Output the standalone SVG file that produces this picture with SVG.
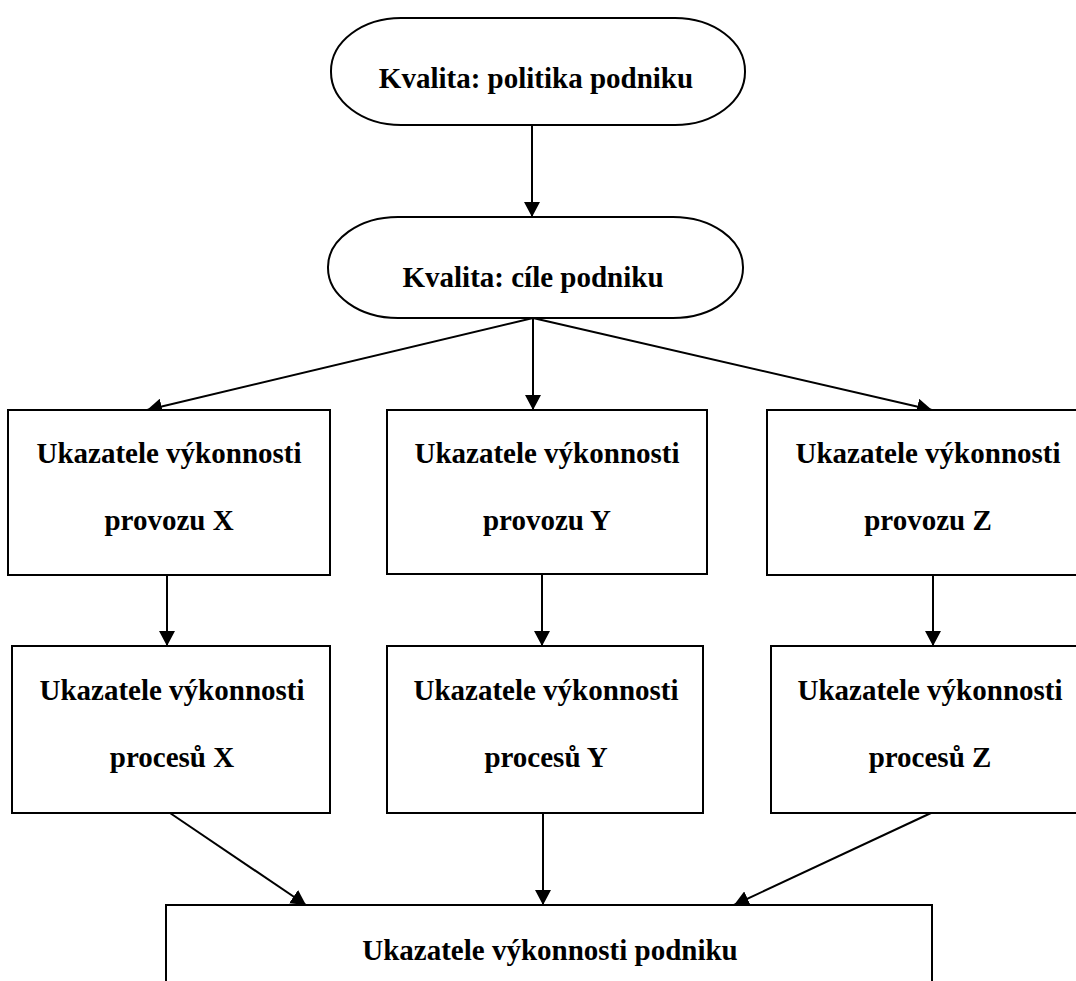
<svg xmlns="http://www.w3.org/2000/svg" width="1076" height="981" viewBox="0 0 1076 981">
<defs>
<marker id="arr" markerUnits="userSpaceOnUse" markerWidth="16" markerHeight="16" refX="15" refY="8" orient="auto">
<path d="M0,0 L15,8 L0,16 Z" fill="#000"/>
</marker>
<style>
.n{fill:#fff;stroke:#000;stroke-width:2}
.t{font-family:"Liberation Serif","Times New Roman",serif;font-weight:bold;font-size:29px;fill:#000;text-anchor:middle}
.c{stroke:#000;stroke-width:2;fill:none;marker-end:url(#arr)}
</style>
</defs>
<rect width="1076" height="981" fill="#fff"/>
<g id="connectors">
<line class="c" x1="532" y1="125" x2="532" y2="217"/>
<line class="c" x1="533" y1="318" x2="147" y2="410"/>
<line class="c" x1="533" y1="318" x2="533" y2="410"/>
<line class="c" x1="533" y1="318" x2="932" y2="410"/>
<line class="c" x1="167" y1="575" x2="167" y2="646"/>
<line class="c" x1="542" y1="574" x2="542" y2="646"/>
<line class="c" x1="933" y1="575" x2="933" y2="646"/>
<line class="c" x1="170" y1="813" x2="306" y2="905"/>
<line class="c" x1="543" y1="813" x2="543" y2="905"/>
<line class="c" x1="931" y1="813" x2="734" y2="905"/>
</g>
<g id="politika">
<rect class="n" x="331" y="18" width="414" height="107" rx="70" ry="53"/>
<text class="t" x="536" y="88">Kvalita: politika podniku</text>
</g>
<g id="cile">
<rect class="n" x="328" y="217" width="415" height="101" rx="70" ry="50"/>
<text class="t" x="533" y="287">Kvalita: cíle podniku</text>
</g>
<g id="provozX">
<rect class="n" x="8" y="410" width="322" height="165"/>
<text class="t" x="169" y="463">Ukazatele výkonnosti</text>
<text class="t" x="169" y="530">provozu X</text>
</g>
<g id="provozY">
<rect class="n" x="387" y="410" width="320" height="164"/>
<text class="t" x="547" y="463">Ukazatele výkonnosti</text>
<text class="t" x="547" y="530">provozu Y</text>
</g>
<g id="provozZ">
<rect class="n" x="767" y="410" width="320" height="165"/>
<text class="t" x="928" y="463">Ukazatele výkonnosti</text>
<text class="t" x="928" y="530">provozu Z</text>
</g>
<g id="procesX">
<rect class="n" x="12" y="646" width="318" height="167"/>
<text class="t" x="172" y="700">Ukazatele výkonnosti</text>
<text class="t" x="172" y="767">procesů X</text>
</g>
<g id="procesY">
<rect class="n" x="387" y="646" width="316" height="167"/>
<text class="t" x="546" y="700">Ukazatele výkonnosti</text>
<text class="t" x="546" y="767">procesů Y</text>
</g>
<g id="procesZ">
<rect class="n" x="771" y="646" width="316" height="167"/>
<text class="t" x="930" y="700">Ukazatele výkonnosti</text>
<text class="t" x="930" y="767">procesů Z</text>
</g>
<g id="podnik">
<rect class="n" x="166" y="905" width="766" height="90"/>
<text class="t" x="550" y="960">Ukazatele výkonnosti podniku</text>
</g>
</svg>
